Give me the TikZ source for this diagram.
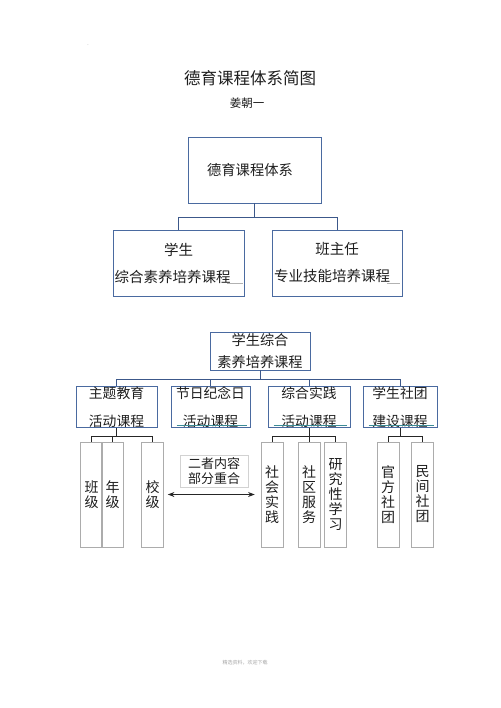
\documentclass[tikz,border=0pt]{standalone}
\usepackage{fontspec}
\setmainfont{Noto Sans CJK SC}
\usetikzlibrary{arrows.meta}

\begin{document}
\begin{tikzpicture}[x=1pt, y=-1pt, >=Stealth,
  box/.style={draw=boxblue, line width=0.9pt, inner sep=0pt, align=center, text=ink},
  pillar/.style={draw=gray!65, line width=0.6pt, inner sep=0pt, align=center, text=ink,
    minimum width=22, minimum height=105, font=\fontsize{14}{15}\selectfont},
  link/.style={draw=linkblue, line width=0.9pt},
  stem/.style={draw=black!85, line width=0.8pt},
  smudge/.style={draw=smudgeteal, line width=0.6pt}]
  \definecolor{boxblue}{RGB}{74,106,160}
  \definecolor{linkblue}{RGB}{60,88,138}
  \definecolor{ink}{RGB}{30,30,30}
  \definecolor{smudgeteal}{RGB}{60,140,150}

  \fill[white] (0,0) rectangle (500,708);
  \useasboundingbox (0,0) rectangle (500,708);

  % title
  \node[text=gray, font=\fontsize{5}{6}\selectfont] (dot) at (88,45) {.};
  \node[text=ink, font=\fontsize{16.5}{18}\selectfont] (title) at (250,78) {德育课程体系简图};
  \node[text=ink, font=\fontsize{11.5}{12}\selectfont] (author) at (247,103) {姜朝一};

  % upper tree
  \node[box, minimum width=133, minimum height=66, font=\fontsize{14.3}{16}\selectfont] (system) at (254.5,170) {德育课程体系\hspace*{9pt}};
  \node[box, minimum width=131, minimum height=66, font=\fontsize{14.5}{27}\selectfont] (student) at (178.5,263) {学生\\综合素养培养课程\hspace*{12pt}};
  \node[box, minimum width=130, minimum height=66, font=\fontsize{14.5}{27}\selectfont] (teacher) at (337,263) {班主任\\专业技能培养课程\hspace*{10pt}};
  \draw[link] (system.south) -- ++(0,14) -| (student.north);
  \draw[link] (system.south) ++(0,14) -| (teacher.north);
  \draw[gray!60, line width=0.5pt] ([xshift=-17,yshift=13]student.south east) -- ([xshift=-1,yshift=13]student.south east);
  \draw[gray!60, line width=0.5pt] ([xshift=-15,yshift=13]teacher.south east) -- ([xshift=-2,yshift=13]teacher.south east);

  % lower tree
  \node[box, minimum width=100, minimum height=38, font=\fontsize{14.2}{22}\selectfont] (quality) at (260,351) {学生综合\\素养培养课程};
  \begin{scope}[every node/.style={box, minimum height=40, font=\fontsize{13.8}{28}\selectfont}]
    \node[minimum width=81] (theme) at (116.5,407) {主题教育\\活动课程};
    \node[minimum width=79] (festival) at (210.5,407) {节日纪念日\\活动课程};
    \node[minimum width=82] (practice) at (309,407) {综合实践\\活动课程};
    \node[minimum width=74] (club) at (400,407) {学生社团\\建设课程};
  \end{scope}
  \foreach \n in {theme,festival,practice,club}
    \draw[link] (quality.south) ++(0,9) -| (\n.north);
  \draw[link] (quality.south) -- ++(0,9);
  \foreach \n in {festival,practice,club}
    \draw[smudge] ([xshift=6,yshift=2.5]\n.south west) -- ([xshift=-3,yshift=2.5]\n.south east);

  % pillars
  \foreach \name/\x/\txt in {banji/91.5/{班\\级}, nianji/112.5/{年\\级}, xiaoji/152.5/{校\\级},
      shehui/272/{社\\会\\实\\践}, shequ/309/{社\\区\\服\\务}, yanjiu/335.5/{研\\究\\性\\学\\习},
      guanfang/388/{官\\方\\社\\团}, minjian/422.5/{民\\间\\社\\团}}
    \node[pillar] (\name) at (\x,494.5) {\txt};
  \foreach \n in {banji,nianji,xiaoji}
    \draw[stem] (theme.south) ++(0,9) -| (\n.north);
  \draw[stem] (theme.south) -- ++(0,9);
  \foreach \n in {shehui,shequ,yanjiu}
    \draw[stem] (practice.south) ++(0,9) -| (\n.north);
  \draw[stem] (practice.south) -- ++(0,9);
  \foreach \n in {guanfang,minjian}
    \draw[stem] (club.south) ++(0,9) -| (\n.north);
  \draw[stem] (club.south) -- ++(0,9);

  % overlap note
  \node[draw=gray!35, line width=0.6pt, minimum width=68, minimum height=32, inner sep=0pt,
    align=center, text=ink, font=\fontsize{13}{15}\selectfont] (overlap) at (214,471) {二者内容\\部分重合};
  \draw[stem, <->] ([xshift=4]xiaoji.east) -- ([xshift=-6]shehui.west);

  \node[text=gray!70, font=\fontsize{5}{6}\selectfont] (footer) at (245,663) {精选资料，欢迎下载};
\end{tikzpicture}
\end{document}
